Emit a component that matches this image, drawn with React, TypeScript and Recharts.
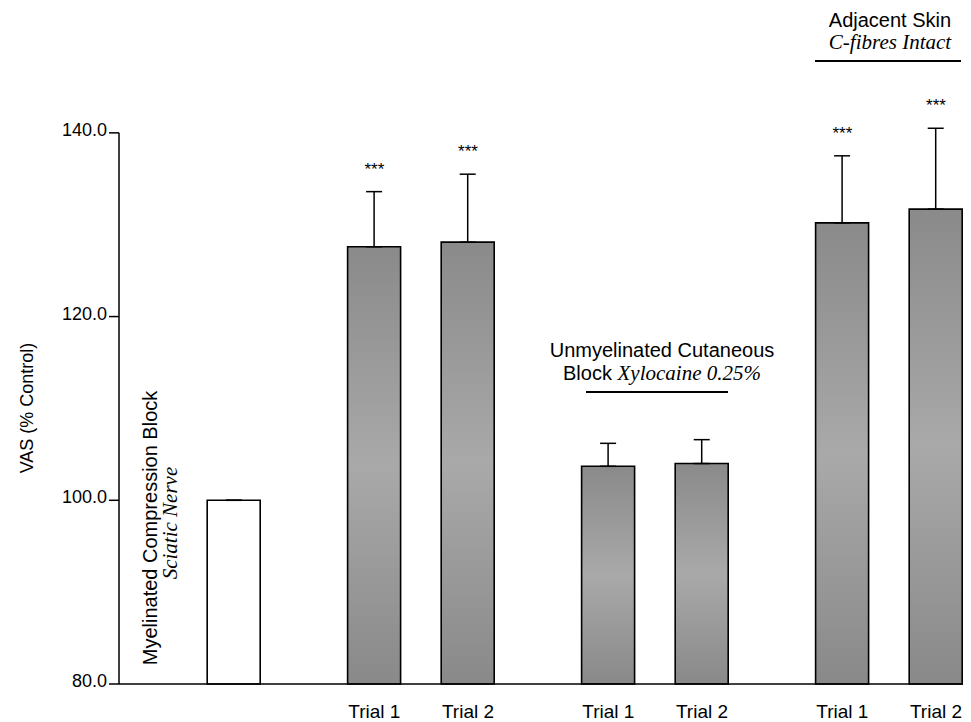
import { Bar, Cell, ComposedChart, ErrorBar, LabelList, Line, XAxis, YAxis } from "recharts";

const trialLabels = ["", "Trial 1", "Trial 2", "Trial 1", "Trial 2", "Trial 1", "Trial 2"];
const vasValues = [100.0, 127.6, 128.1, 103.7, 104.0, 130.2, 131.7];
const semValues = [0, 6.0, 7.4, 2.5, 2.6, 7.3, 8.8];
const significance = ["", "***", "***", "", "", "***", "***"];
const yTicks = [80, 100, 120, 140];
const yDomain: [number, number] = [80, 150];

const W = 971;
const H = 722;
const MARGIN_TOP = 41;
const X_AXIS_H = 38;
const Y_AXIS_W = 119;
const PX_PER_UNIT = (H - MARGIN_TOP - X_AXIS_H) / (yDomain[1] - yDomain[0]);

const SANS = "'Liberation Sans', Arial, Helvetica, sans-serif";
const SERIF = "'Liberation Serif', 'Times New Roman', serif";

// slot positions: control bar at 0, then Trial 1 / Trial 2 pairs (gap of 3 slots between groups, 2 within)
const rows = trialLabels.map((label, i) => {
  const pair = Math.floor((i - 1) / 2);
  const pos = i === 0 ? 0 : 3 + pair * 5 + ((i - 1) % 2) * 2;
  return {
    pos,
    label,
    vas: vasValues[i],
    err: [0, semValues[i]],
    top: vasValues[i] + semValues[i],
    stars: significance[i],
    control: i === 0,
  };
});
const xTicks = rows.map((r) => r.pos);
const labelByPos: Record<number, string> = Object.fromEntries(rows.map((r) => [r.pos, r.label]));

function YTick(props: any) {
  const { x, y, payload } = props;
  const v = payload.value as number;
  const axisX = x + 12;
  return (
    <g>
      <text x={x} y={y} dy={-3} textAnchor="end" dominantBaseline="central" fontFamily={SANS} fontSize={18} fill="#000">
        {v.toFixed(1)}
      </text>
      {v === yTicks[yTicks.length - 1] && (
        <line x1={axisX} x2={axisX} y1={y} y2={y + (v - yTicks[0]) * PX_PER_UNIT} stroke="#000" strokeWidth={1.5} />
      )}
    </g>
  );
}

export default function App() {
  return (
    <div style={{ position: "absolute", left: 0, top: 0, width: W, height: H, background: "#fff" }}>
      <ComposedChart width={W} height={H} data={rows} margin={{ top: MARGIN_TOP, right: 8, bottom: 0, left: 0 }}>
        <defs>
          <linearGradient id="barGrad" x1="0" y1="0" x2="0" y2="1">
            <stop offset="0%" stopColor="#8a8a8a" />
            <stop offset="50%" stopColor="#a9a9a9" />
            <stop offset="100%" stopColor="#898989" />
          </linearGradient>
        </defs>
        <XAxis
          dataKey="pos"
          type="number"
          domain={[0, 15]}
          ticks={xTicks}
          interval={0}
          height={X_AXIS_H}
          padding={{ left: 115, right: 27 }}
          tickLine={false}
          tickSize={0}
          tickMargin={21}
          axisLine={{ stroke: "#000", strokeWidth: 1.5 }}
          tickFormatter={(p: number) => labelByPos[p] ?? ""}
          tick={{ fill: "#000", fontSize: 19, fontFamily: SANS }}
        />
        <YAxis
          type="number"
          domain={yDomain}
          ticks={yTicks}
          width={Y_AXIS_W}
          axisLine={false}
          tickSize={10}
          tickMargin={2}
          tickLine={{ stroke: "#000", strokeWidth: 1.5 }}
          tick={<YTick />}
        />
        <Bar dataKey="vas" barSize={53} stroke="#000" strokeWidth={1.6} isAnimationActive={false}>
          {rows.map((r) => (
            <Cell key={r.pos} fill={r.control ? "#ffffff" : "url(#barGrad)"} />
          ))}
          <ErrorBar dataKey="err" width={8} stroke="#000" strokeWidth={1.5} />
        </Bar>
        <Line dataKey="top" stroke="none" dot={false} activeDot={false} isAnimationActive={false}>
          <LabelList dataKey="stars" position="top" offset={17} fill="#000" fontSize={17} fontFamily={SANS} />
        </Line>
      </ComposedChart>
      <svg width={W} height={H} style={{ position: "absolute", left: 0, top: 0, pointerEvents: "none" }}>
        <text x={33} y={408} transform="rotate(-90 33 408)" textAnchor="middle" fontFamily={SANS} fontSize={18}>
          VAS (% Control)
        </text>
        <text x={157} y={528} transform="rotate(-90 157 528)" textAnchor="middle" fontFamily={SANS} fontSize={20}>
          Myelinated Compression Block
        </text>
        <text x={177} y={523} transform="rotate(-90 177 523)" textAnchor="middle" fontFamily={SERIF} fontStyle="italic" fontSize={21}>
          Sciatic Nerve
        </text>
        <text x={662} y={357} textAnchor="middle" fontFamily={SANS} fontSize={20}>
          Unmyelinated Cutaneous
        </text>
        <text x={662} y={380} textAnchor="middle" fontFamily={SANS} fontSize={20}>
          Block{" "}
          <tspan fontFamily={SERIF} fontStyle="italic" fontSize={21}>
            Xylocaine 0.25%
          </tspan>
        </text>
        <line x1={586} x2={728} y1={392} y2={392} stroke="#000" strokeWidth={2} />
        <text x={890} y={27} textAnchor="middle" fontFamily={SANS} fontSize={20}>
          Adjacent Skin
        </text>
        <text x={890} y={49} textAnchor="middle" fontFamily={SERIF} fontStyle="italic" fontSize={21}>
          C-fibres Intact
        </text>
        <line x1={815} x2={961} y1={61} y2={61} stroke="#000" strokeWidth={2} />
      </svg>
    </div>
  );
}
